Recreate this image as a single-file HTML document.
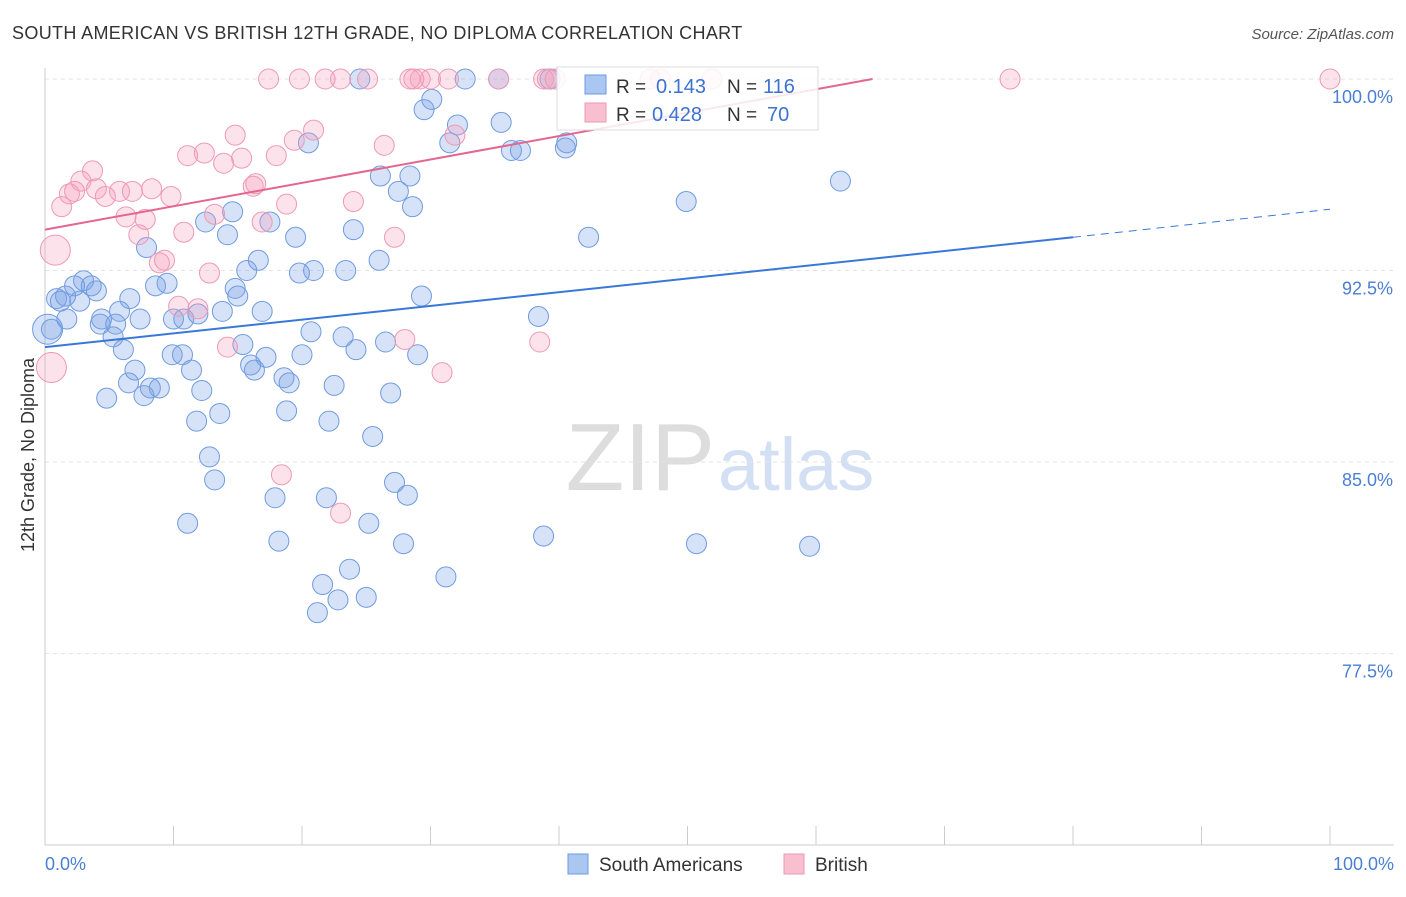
<!DOCTYPE html>
<html><head><meta charset="utf-8"><style>
body{margin:0;background:#fff;font-family:"Liberation Sans",sans-serif;}
svg text{font-family:"Liberation Sans",sans-serif;}
</style></head><body>
<svg id="c" width="1406" height="892" viewBox="0 0 1406 892" xmlns="http://www.w3.org/2000/svg">
<text x="12" y="39" font-size="18" fill="#333" letter-spacing="0.35">SOUTH AMERICAN VS BRITISH 12TH GRADE, NO DIPLOMA CORRELATION CHART</text>
<text x="1394" y="39" font-size="15" fill="#555" text-anchor="end" font-style="italic">Source: ZipAtlas.com</text>
<text x="715" y="490" font-size="96" fill="#ddd" text-anchor="end" font-family="Liberation Serif">ZIP</text>
<text x="718" y="490" font-size="74" fill="#d3e0f3">atlas</text>
<g id="grid"></g><g id="axes"></g><g id="pts"></g><g id="lines"></g>
<text transform="translate(34,455) rotate(-90)" font-size="18" fill="#333" text-anchor="middle">12th Grade, No Diploma</text>
<text x="45" y="870" font-size="18" fill="#4a7fd4">0.0%</text>
<text x="1394" y="870" font-size="18" fill="#4a7fd4" text-anchor="end">100.0%</text>
<g>
<rect x="557" y="67" width="261" height="63" fill="rgba(255,255,255,0.85)" stroke="#ddd"/>
<rect x="585" y="75" width="21" height="19" fill="#aac7f2" stroke="#6f9be0"/>
<rect x="585" y="103" width="21" height="19" fill="#f7bfcf" stroke="#ee99b3"/>
<text x="616" y="93" font-size="19" fill="#333">R =</text>
<text x="656" y="93" font-size="20" fill="#3b73d1">0.143</text>
<text x="727" y="93" font-size="19" fill="#333">N =</text>
<text x="763" y="93" font-size="20" fill="#3b73d1">116</text>
<text x="616" y="121" font-size="19" fill="#333">R =</text>
<text x="652" y="121" font-size="20" fill="#3b73d1">0.428</text>
<text x="727" y="121" font-size="19" fill="#333">N =</text>
<text x="767" y="121" font-size="20" fill="#3b73d1">70</text>
</g>
<g>
<rect x="568" y="854" width="20" height="20" fill="#aac7f2" stroke="#6f9be0"/>
<text x="599" y="871" font-size="19" fill="#333">South Americans</text>
<rect x="784" y="854" width="20" height="20" fill="#f7bfcf" stroke="#ee99b3"/>
<text x="815" y="871" font-size="19" fill="#333">British</text>
</g>
</svg>
<script>
const yTicks=[100,92.5,85,77.5];
const yTickLabels=["100.0%","92.5%","85.0%","77.5%"];
const blueX=[24.5,32.7,35.3,39.3,30.1,29.5,32.1,35.5,20.5,31.5,36.3,37.0,40.5,40.6,61.9,49.9,26.1,28.4,27.5,28.6,14.6,12.5,17.5,14.2,19.5,24.0,42.3,7.9,16.6,26.0,15.7,20.9,19.8,23.4,3.0,8.6,9.5,2.3,3.6,14.8,15.0,0.9,4.0,6.6,1.6,2.7,29.3,5.8,4.4,13.8,16.9,38.4,7.4,10.0,10.8,11.9,1.7,0.5,4.3,5.5,20.7,23.2,26.5,29.0,15.4,24.2,17.2,20.0,9.9,10.7,6.1,5.3,16.0,16.3,11.4,7.0,18.6,19.0,6.5,8.9,8.2,22.5,26.9,12.2,7.7,4.8,18.8,13.6,11.8,22.1,25.5,12.8,13.2,27.2,17.9,21.9,28.2,11.1,25.2,18.2,27.9,38.8,23.7,50.7,59.5,31.2,21.6,22.8,25.0,21.2,1.2,0.2];
const blueY=[100,100,100,100,99.2,98.8,98.2,98.3,97.5,97.5,97.2,97.2,97.3,97.5,96.0,95.2,96.2,96.2,95.6,95.0,94.8,94.4,94.4,93.9,93.8,94.1,93.8,93.4,92.9,92.9,92.5,92.5,92.4,92.5,92.1,91.9,92.0,91.9,91.9,91.8,91.5,91.4,91.7,91.4,91.5,91.3,91.5,90.9,90.6,90.9,90.9,90.7,90.6,90.6,90.6,90.8,90.6,90.2,90.4,90.4,90.1,89.9,89.7,89.2,89.6,89.4,89.1,89.2,89.2,89.2,89.4,89.9,88.8,88.6,88.6,88.6,88.3,88.1,88.1,87.9,87.9,88.0,87.7,87.8,87.6,87.5,87.0,86.9,86.6,86.6,86.0,85.2,84.3,84.2,83.6,83.6,83.7,82.6,82.6,81.9,81.8,82.1,80.8,81.8,81.7,80.5,80.2,79.6,79.7,79.1,91.3,90.2];
const pinkX=[17.4,19.8,21.8,23.0,25.1,28.4,29.2,30.0,31.4,35.3,38.8,39.1,75.1,100,47.1,47.9,51.9,14.8,20.9,19.4,31.9,26.4,12.4,11.1,15.3,13.9,18.0,3.7,2.8,1.9,2.3,4.0,4.7,5.8,6.8,8.3,9.8,1.3,6.3,7.8,16.2,16.4,18.8,24.0,13.2,16.9,10.8,7.3,27.2,0.8,8.9,9.3,12.8,10.4,11.9,14.2,28.0,38.5,30.9,0.5,18.4,23.0,28.7,39.7];
const pinkY=[100,100,100,100,100,100,100,100,100,100,100,100,100,100,100,100,100,97.8,98.0,97.6,97.8,97.4,97.1,97.0,96.9,96.7,97.0,96.4,96.0,95.5,95.6,95.7,95.4,95.6,95.6,95.7,95.4,95.0,94.6,94.5,95.8,95.9,95.1,95.2,94.7,94.4,94.0,93.9,93.8,93.3,92.8,92.9,92.4,91.1,91.0,89.5,89.8,89.7,88.5,88.7,84.5,83.0,100,100];
const bigBlue=[111];
const bigPink=[49,59];
const blueTrend=[89.5,93.8,94.9];
const pinkTrend=[94.1,100];
const pinkTrendEndX=64.4;
const NS="http://www.w3.org/2000/svg";
const X0=45,X1=1330,YT=79,PXPER=191.5/7.5;
function xs(v){return X0+(v/100)*(X1-X0);}
function ys(v){return YT+(100-v)*PXPER;}
function mk(tag,attrs,parent){const e=document.createElementNS(NS,tag);for(const k in attrs)e.setAttribute(k,attrs[k]);parent.appendChild(e);return e;}
const grid=document.getElementById('grid'),axes=document.getElementById('axes'),pts=document.getElementById('pts'),lines=document.getElementById('lines');
yTicks.forEach((t,i)=>{
  const l=mk('line',{x1:45,x2:1394,y1:ys(t),y2:ys(t),stroke:'#e3e3e3','stroke-dasharray':'4,4'},grid);
  
  
  const tx=mk('text',{x:1393,y:ys(t)+24,'font-size':18,fill:'#4a7fd4','text-anchor':'end'},grid);
  tx.textContent=yTickLabels[i];
  
  
});
const ax=mk('line',{x1:45,x2:45,y1:68,y2:845,stroke:'#ccc'},axes);


const bx=mk('line',{x1:45,x2:1394,y1:845,y2:845,stroke:'#ccc'},axes);


for(let i=0;i<=10;i++){const t=mk('line',{x1:xs(i*10),x2:xs(i*10),y1:826,y2:845,stroke:'#ccc'},axes);

}
blueX.forEach((v,i)=>{const c=mk('circle',{cx:xs(v),cy:ys(blueY[i]),r:bigBlue.includes(i)?15:10,fill:'rgba(120,160,230,0.3)',stroke:'#6f9be0','stroke-width':1},pts);

});
pinkX.forEach((v,i)=>{const c=mk('circle',{cx:xs(v),cy:ys(pinkY[i]),r:bigPink.includes(i)?15:10,fill:'rgba(245,160,190,0.3)',stroke:'#ee99b3','stroke-width':1},pts);

});
const b1=mk('line',{x1:xs(0),y1:ys(blueTrend[0]),x2:xs(80),y2:ys(blueTrend[1]),stroke:'#3a78d8','stroke-width':2},lines);


const b2=mk('line',{x1:xs(80),y1:ys(blueTrend[1]),x2:xs(100),y2:ys(blueTrend[2]),stroke:'#3a78d8','stroke-width':1,'stroke-dasharray':'8,6'},lines);


const p1=mk('line',{x1:xs(0),y1:ys(pinkTrend[0]),x2:xs(pinkTrendEndX),y2:ys(pinkTrend[1]),stroke:'#e4668f','stroke-width':2},lines);


</script>
</body></html>
